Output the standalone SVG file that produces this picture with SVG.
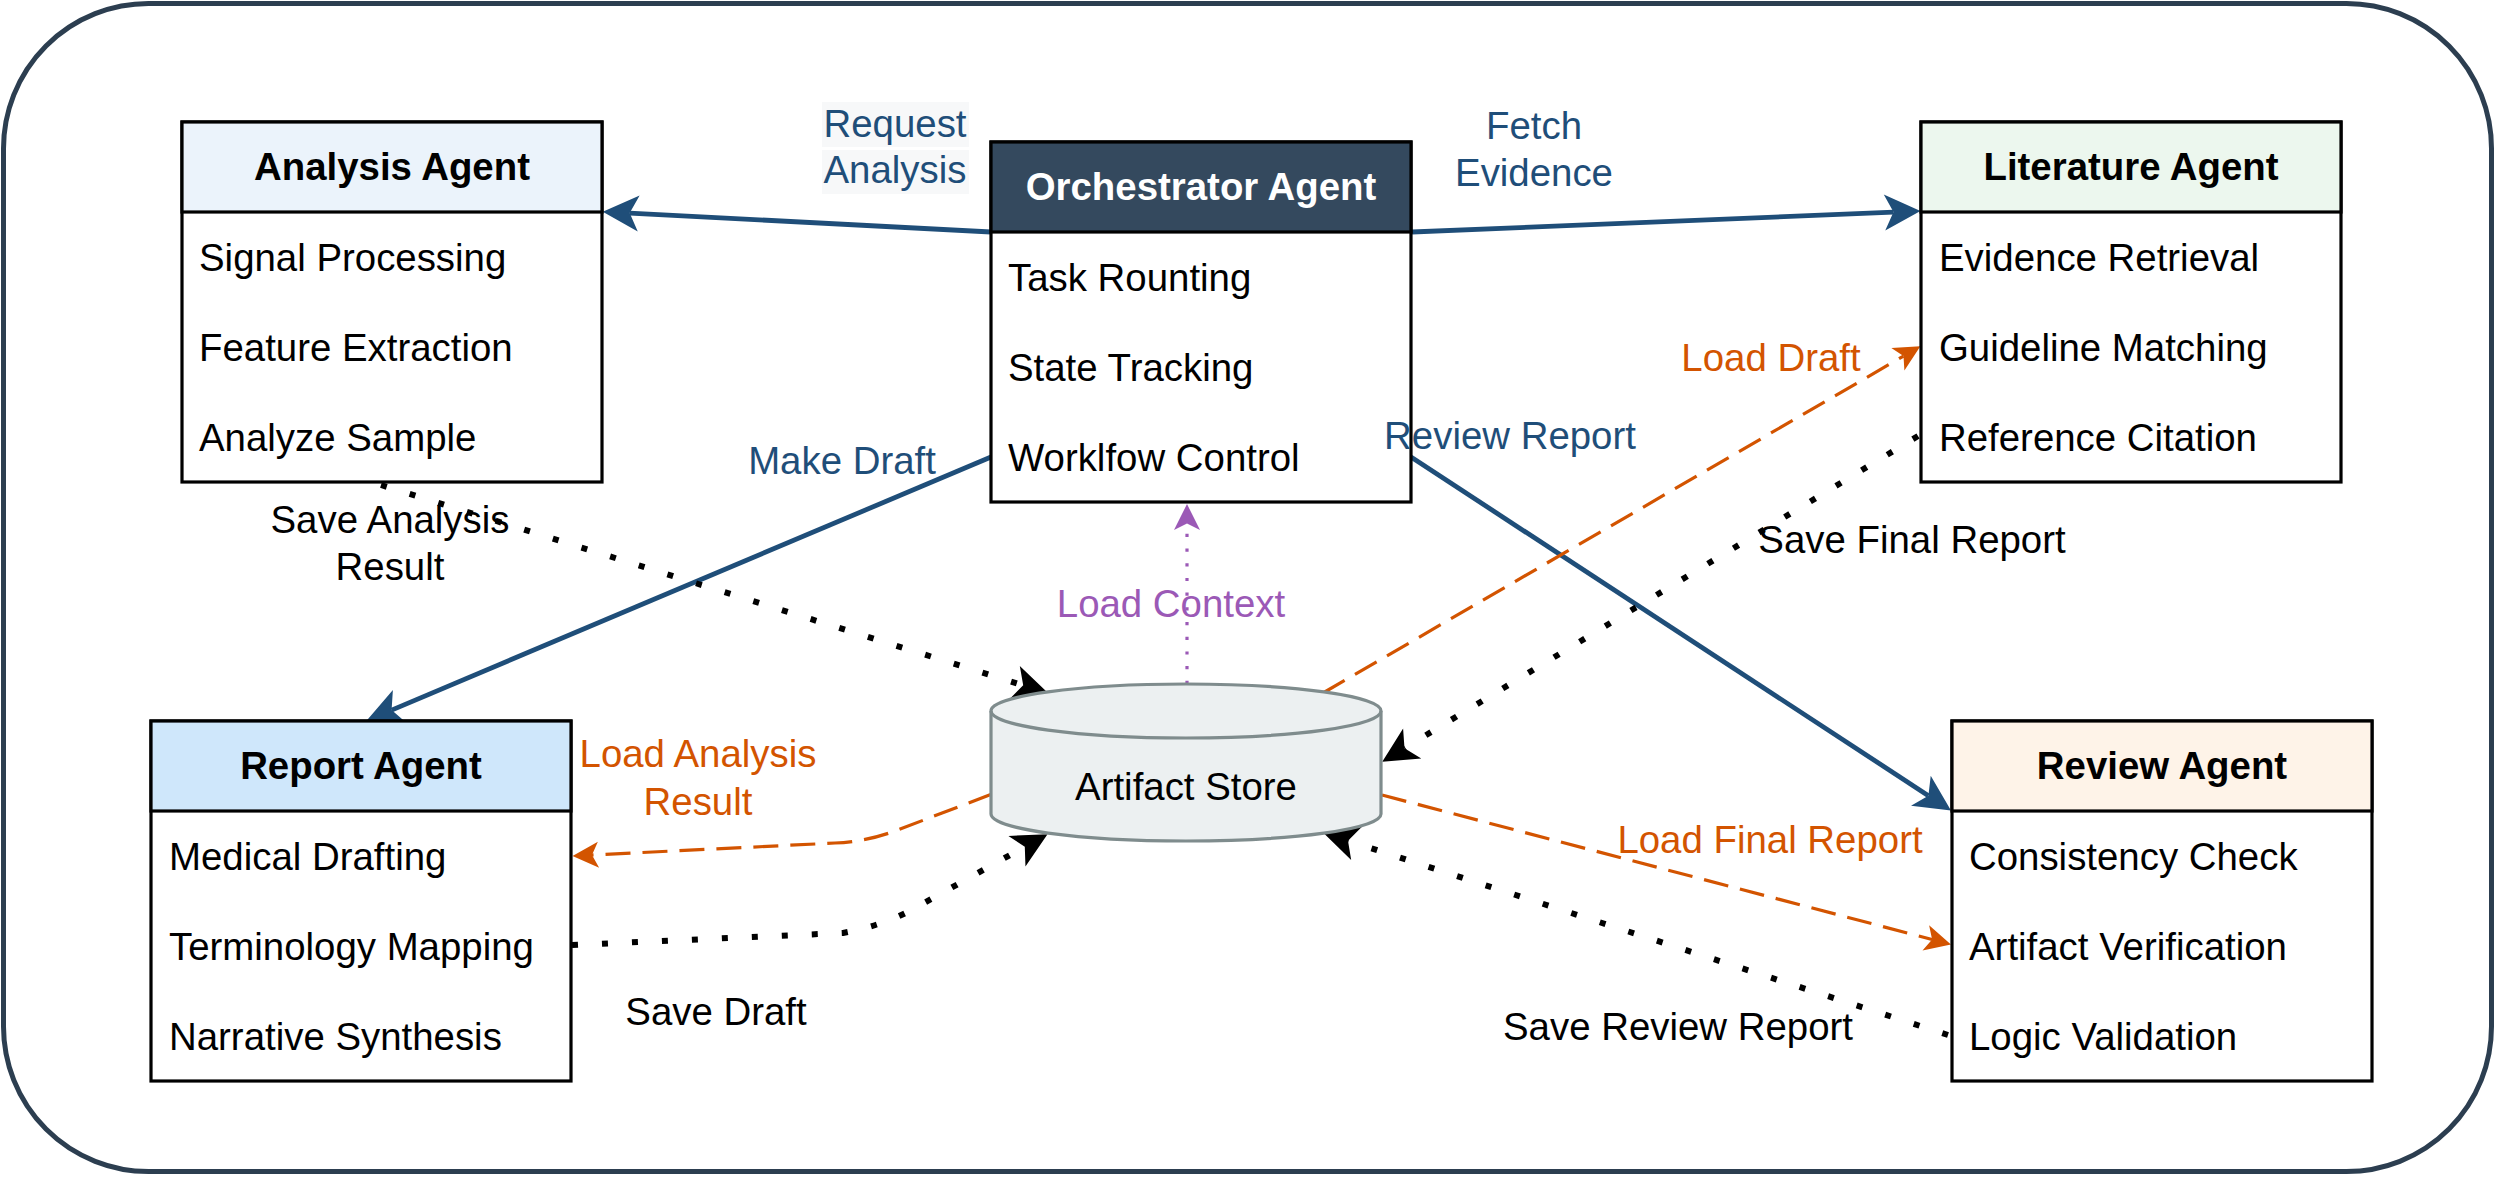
<svg xmlns="http://www.w3.org/2000/svg" width="2499" height="1179" viewBox="0 0 2499 1179">
<style>
text{font-family:"Liberation Sans",Arial,Helvetica,sans-serif;font-size:38.4px}
.hd{font-weight:bold;text-anchor:middle;fill:#000}
.hdw{font-weight:bold;text-anchor:middle;fill:#fff}
.it{fill:#000}
.box{fill:#fff;stroke:#000;stroke-width:3.2}
.blue{fill:none;stroke:#1f4e79;stroke-width:4.8}
.orange{fill:none;stroke:#d35400;stroke-width:3.2;stroke-dasharray:25 12}
.black{fill:none;stroke:#000;stroke-width:6;stroke-dasharray:6 24}
.purple{fill:none;stroke:#9b59b6;stroke-width:3.2;stroke-dasharray:3.2 11.5}
.lb{fill:#1f4e79;text-anchor:middle}
.lo{fill:#d35400;text-anchor:middle}
.lk{fill:#000;text-anchor:middle}
.lp{fill:#9b59b6;text-anchor:middle}
</style>
<defs>
<marker id="mBlue" markerUnits="userSpaceOnUse" orient="auto" refX="0" refY="0" markerWidth="80" markerHeight="80" viewBox="-40 -40 80 80" overflow="visible"><path d="M27,0 L-9,-18 L0,0 L-9,18 Z" fill="#1f4e79"/></marker>
<marker id="mOrange" markerUnits="userSpaceOnUse" orient="auto" refX="0" refY="0" markerWidth="60" markerHeight="60" viewBox="-30 -30 60 60" overflow="visible"><path d="M19.5,0 L-6.5,-13 L0,0 L-6.5,13 Z" fill="#d35400"/></marker>
<marker id="mPurple" markerUnits="userSpaceOnUse" orient="auto" refX="0" refY="0" markerWidth="60" markerHeight="60" viewBox="-30 -30 60 60" overflow="visible"><path d="M19.5,0 L-6.5,-13 L0,0 L-6.5,13 Z" fill="#9b59b6"/></marker>
<marker id="mBlack" markerUnits="userSpaceOnUse" orient="auto" refX="0" refY="0" markerWidth="80" markerHeight="80" viewBox="-40 -40 80 80" overflow="visible"><path d="M26,0 L-9,-17.5 L0,0 L-9,17.5 Z" fill="#000"/></marker>
</defs>
<rect width="2499" height="1179" fill="#fff"/>
<rect id="frame" x="3.5" y="3.5" width="2488" height="1168" rx="145" ry="145" fill="#fff" stroke="#2c3e50" stroke-width="5"/>

<g id="connectors">
<path class="blue" d="M991,232 L629.7,213.1" marker-end="url(#mBlue)"/>
<path class="blue" d="M1412,232 L1893.5,212.1" marker-end="url(#mBlue)"/>
<path class="blue" d="M991,457 L391.6,710.1" marker-end="url(#mBlue)"/>
<path class="blue" d="M1411,457 L1928.4,795.7" marker-end="url(#mBlue)"/>
<path class="orange" d="M1323,693 L1903.5,356.1" marker-end="url(#mOrange)"/>
<path class="orange" d="M1382,795 L1932.1,939.5" marker-end="url(#mOrange)"/>
<path class="orange" d="M992,794 L895,831 Q865,842 835,843 L592,855" marker-end="url(#mOrange)"/>
<path class="purple" d="M1187,684 L1187,523.5" marker-end="url(#mPurple)"/>
<path class="black" d="M381,485 L1023.2,685.3" marker-end="url(#mBlack)"/>
<path class="black" d="M1918,436 L1404.5,748.2" marker-end="url(#mBlack)"/>
<path class="black" d="M572,945 L843,933 Q885,925 915,908 L1024.8,846.8" marker-end="url(#mBlack)"/>
<path class="black" d="M1948,1035 L1348,840.7" marker-end="url(#mBlack)"/>
</g>

<g id="analysis-agent">
<rect class="box" x="182" y="122" width="420" height="360"/>
<rect x="182" y="122" width="420" height="90" fill="#ebf3fb" stroke="#000" stroke-width="3.2"/>
<text class="hd" x="392" y="180">Analysis Agent</text>
<text class="it" x="199" y="271">Signal Processing</text>
<text class="it" x="199" y="361">Feature Extraction</text>
<text class="it" x="199" y="451">Analyze Sample</text>
</g>

<g id="orchestrator-agent">
<rect class="box" x="991" y="142" width="420" height="360"/>
<rect x="991" y="142" width="420" height="90" fill="#34495e" stroke="#000" stroke-width="3.2"/>
<text class="hdw" x="1201" y="200">Orchestrator Agent</text>
<text class="it" x="1008" y="291">Task Rounting</text>
<text class="it" x="1008" y="381">State Tracking</text>
<text class="it" x="1008" y="471">Worklfow Control</text>
</g>

<g id="literature-agent">
<rect class="box" x="1921" y="122" width="420" height="360"/>
<rect x="1921" y="122" width="420" height="90" fill="#ecf7ee" stroke="#000" stroke-width="3.2"/>
<text class="hd" x="2131" y="180">Literature Agent</text>
<text class="it" x="1939" y="271">Evidence Retrieval</text>
<text class="it" x="1939" y="361">Guideline Matching</text>
<text class="it" x="1939" y="451">Reference Citation</text>
</g>

<g id="report-agent">
<rect class="box" x="151" y="721" width="420" height="360"/>
<rect x="151" y="721" width="420" height="90" fill="#cfe7fb" stroke="#000" stroke-width="3.2"/>
<text class="hd" x="361" y="779">Report Agent</text>
<text class="it" x="169" y="870">Medical Drafting</text>
<text class="it" x="169" y="960">Terminology Mapping</text>
<text class="it" x="169" y="1050">Narrative Synthesis</text>
</g>

<g id="review-agent">
<rect class="box" x="1952" y="721" width="420" height="360"/>
<rect x="1952" y="721" width="420" height="90" fill="#fef3e8" stroke="#000" stroke-width="3.2"/>
<text class="hd" x="2162" y="779">Review Agent</text>
<text class="it" x="1969" y="870">Consistency Check</text>
<text class="it" x="1969" y="960">Artifact Verification</text>
<text class="it" x="1969" y="1050">Logic Validation</text>
</g>

<g id="artifact-store">
<path d="M991,711 A195,27 0 0 1 1381,711 L1381,814 A195,27 0 0 1 991,814 Z" fill="#ecf0f1" stroke="#7f8c8d" stroke-width="3.2"/>
<path d="M991,711 A195,27 0 0 0 1381,711" fill="none" stroke="#7f8c8d" stroke-width="3.2"/>
<text class="lk" x="1186" y="800">Artifact Store</text>
</g>

<g id="connector-labels">
<rect x="822" y="102" width="147" height="45" fill="#f7f8f9"/>
<rect x="822" y="150" width="147" height="44" fill="#f7f8f9"/>
<text class="lb" x="895" y="137">Request</text>
<text class="lb" x="895" y="183">Analysis</text>
<text class="lb" x="1534" y="139">Fetch</text>
<text class="lb" x="1534" y="186">Evidence</text>
<text class="lb" x="842" y="474">Make Draft</text>
<text class="lb" x="1510" y="449">Review Report</text>
<text class="lo" x="1771" y="371">Load Draft</text>
<text class="lp" x="1171" y="617">Load Context</text>
<text class="lo" x="698" y="767">Load Analysis</text>
<text class="lo" x="698" y="815">Result</text>
<text class="lk" x="390" y="533">Save Analysis</text>
<text class="lk" x="390" y="580">Result</text>
<text class="lk" x="716" y="1025">Save Draft</text>
<text class="lk" x="1912" y="553">Save Final Report</text>
<text class="lo" x="1770" y="853">Load Final Report</text>
<text class="lk" x="1678" y="1040">Save Review Report</text>
</g>
</svg>
